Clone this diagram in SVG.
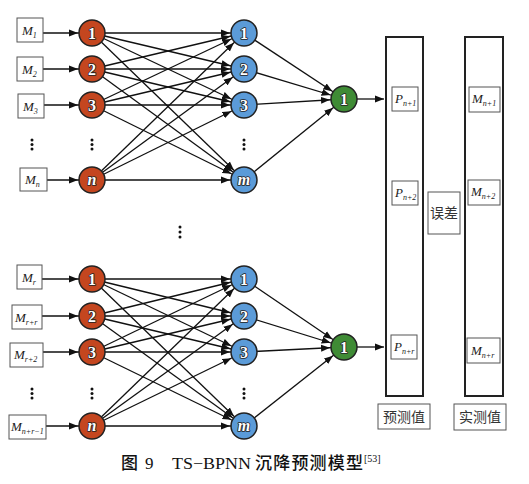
<svg xmlns="http://www.w3.org/2000/svg" width="529" height="484" viewBox="0 0 529 484">
<style>
.bx{fill:#fff;stroke:#555;stroke-width:1}
.col{fill:#fff;stroke:#222;stroke-width:2}
.lbl{font-family:"Liberation Serif",serif;font-style:italic;font-size:13px;fill:#222}
.sub{font-size:8px}
.red{fill:#c4461f;stroke:#222;stroke-width:1.5}
.blue{fill:#5b9bd8;stroke:#222;stroke-width:1.5}
.green{fill:#3f8b35;stroke:#222;stroke-width:1.5}
.num{font-family:"Liberation Serif",serif;font-weight:bold;font-size:16px;fill:#fff;stroke:#222;stroke-width:1.6;paint-order:stroke;stroke-linejoin:round;text-anchor:middle}
.it{font-style:italic}
.cn{font-family:"Noto Sans CJK SC",sans-serif;font-size:14px;fill:#333;text-anchor:middle}
.ln{stroke:#111;stroke-width:1.3;fill:none}
.dot{fill:#111}
.cap{font-size:17px;fill:#111}
.capcn{font-family:"Noto Sans CJK SC",sans-serif;font-weight:500}
.caplt{font-family:"Liberation Serif",serif}
</style>
<defs>
<marker id="ah" markerUnits="userSpaceOnUse" markerWidth="10" markerHeight="8" refX="23" refY="4" orient="auto">
<path d="M0,0.5 L9,4 L0,7.5 z" fill="#111"/>
</marker>
<marker id="ah2" markerUnits="userSpaceOnUse" markerWidth="10" markerHeight="8" refX="9" refY="4" orient="auto">
<path d="M0,0.5 L9,4 L0,7.5 z" fill="#111"/>
</marker>
</defs>

<g id="connectors">
<line class="ln" x1="43" y1="33" x2="92" y2="33" marker-end="url(#ah)"/>
<line class="ln" x1="43" y1="69" x2="92" y2="69" marker-end="url(#ah)"/>
<line class="ln" x1="44" y1="105" x2="92" y2="105" marker-end="url(#ah)"/>
<line class="ln" x1="47" y1="180" x2="92" y2="180" marker-end="url(#ah)"/>
<line class="ln" x1="42" y1="279" x2="92" y2="279" marker-end="url(#ah)"/>
<line class="ln" x1="42" y1="316" x2="92" y2="316" marker-end="url(#ah)"/>
<line class="ln" x1="43" y1="352" x2="92" y2="352" marker-end="url(#ah)"/>
<line class="ln" x1="46" y1="426" x2="92" y2="426" marker-end="url(#ah)"/>
<g marker-end="url(#ah)">
<line class="ln" x1="92" y1="33" x2="244" y2="33"/>
<line class="ln" x1="92" y1="33" x2="244" y2="69"/>
<line class="ln" x1="92" y1="33" x2="244" y2="105"/>
<line class="ln" x1="92" y1="33" x2="244" y2="180"/>
<line class="ln" x1="92" y1="69" x2="244" y2="33"/>
<line class="ln" x1="92" y1="69" x2="244" y2="69"/>
<line class="ln" x1="92" y1="69" x2="244" y2="105"/>
<line class="ln" x1="92" y1="69" x2="244" y2="180"/>
<line class="ln" x1="92" y1="105" x2="244" y2="33"/>
<line class="ln" x1="92" y1="105" x2="244" y2="69"/>
<line class="ln" x1="92" y1="105" x2="244" y2="105"/>
<line class="ln" x1="92" y1="105" x2="244" y2="180"/>
<line class="ln" x1="92" y1="180" x2="244" y2="33"/>
<line class="ln" x1="92" y1="180" x2="244" y2="69"/>
<line class="ln" x1="92" y1="180" x2="244" y2="105"/>
<line class="ln" x1="92" y1="180" x2="244" y2="180"/>
<line class="ln" x1="92" y1="279" x2="244" y2="279"/>
<line class="ln" x1="92" y1="279" x2="244" y2="316"/>
<line class="ln" x1="92" y1="279" x2="244" y2="352"/>
<line class="ln" x1="92" y1="279" x2="244" y2="426"/>
<line class="ln" x1="92" y1="316" x2="244" y2="279"/>
<line class="ln" x1="92" y1="316" x2="244" y2="316"/>
<line class="ln" x1="92" y1="316" x2="244" y2="352"/>
<line class="ln" x1="92" y1="316" x2="244" y2="426"/>
<line class="ln" x1="92" y1="352" x2="244" y2="279"/>
<line class="ln" x1="92" y1="352" x2="244" y2="316"/>
<line class="ln" x1="92" y1="352" x2="244" y2="352"/>
<line class="ln" x1="92" y1="352" x2="244" y2="426"/>
<line class="ln" x1="92" y1="426" x2="244" y2="279"/>
<line class="ln" x1="92" y1="426" x2="244" y2="316"/>
<line class="ln" x1="92" y1="426" x2="244" y2="352"/>
<line class="ln" x1="92" y1="426" x2="244" y2="426"/>
<line class="ln" x1="244" y1="33" x2="344" y2="99"/>
<line class="ln" x1="244" y1="69" x2="344" y2="99"/>
<line class="ln" x1="244" y1="105" x2="344" y2="99"/>
<line class="ln" x1="244" y1="180" x2="344" y2="99"/>
<line class="ln" x1="244" y1="279" x2="344" y2="347"/>
<line class="ln" x1="244" y1="316" x2="344" y2="347"/>
<line class="ln" x1="244" y1="352" x2="344" y2="347"/>
<line class="ln" x1="244" y1="426" x2="344" y2="347"/>
</g>
<line class="ln" x1="357" y1="99" x2="384" y2="99" marker-end="url(#ah2)"/>
<line class="ln" x1="357" y1="347" x2="384" y2="347" marker-end="url(#ah2)"/>
</g>

<g id="in-M1"><rect class="bx" x="17" y="18" width="26" height="24"/><text class="lbl" x="22" y="35">M<tspan class="sub" dy="3">1</tspan></text></g>
<g id="in-M2"><rect class="bx" x="17" y="57" width="26" height="24"/><text class="lbl" x="22" y="74">M<tspan class="sub" dy="3">2</tspan></text></g>
<g id="in-M3"><rect class="bx" x="18" y="94" width="26" height="24"/><text class="lbl" x="23" y="111">M<tspan class="sub" dy="3">3</tspan></text></g>
<g id="in-Mn"><rect class="bx" x="20" y="168" width="27" height="23"/><text class="lbl" x="25" y="184">M<tspan class="sub" dy="3">n</tspan></text></g>
<g id="in-Mr"><rect class="bx" x="17" y="265" width="25" height="24"/><text class="lbl" x="22" y="282">M<tspan class="sub" dy="3">r</tspan></text></g>
<g id="in-Mrr"><rect class="bx" x="12" y="305" width="30" height="24"/><text class="lbl" x="15" y="322">M<tspan class="sub" dy="3">r+r</tspan></text></g>
<g id="in-Mr2"><rect class="bx" x="10" y="343" width="33" height="24"/><text class="lbl" x="14" y="359">M<tspan class="sub" dy="3">r+2</tspan></text></g>
<g id="in-Mnr1"><rect class="bx" x="9" y="415" width="37" height="24"/><text class="lbl" x="11" y="431">M<tspan class="sub" dy="3">n+r−1</tspan></text></g>

<g id="dots">
<circle class="dot" cx="32" cy="140" r="1.5"/><circle class="dot" cx="32" cy="144.5" r="1.5"/><circle class="dot" cx="32" cy="149" r="1.5"/>
<circle class="dot" cx="92" cy="140" r="1.5"/><circle class="dot" cx="92" cy="144.5" r="1.5"/><circle class="dot" cx="92" cy="149" r="1.5"/>
<circle class="dot" cx="244" cy="140" r="1.5"/><circle class="dot" cx="244" cy="144.5" r="1.5"/><circle class="dot" cx="244" cy="149" r="1.5"/>
<circle class="dot" cx="180" cy="227" r="1.5"/><circle class="dot" cx="180" cy="232" r="1.5"/><circle class="dot" cx="180" cy="237" r="1.5"/>
<circle class="dot" cx="32" cy="389" r="1.5"/><circle class="dot" cx="32" cy="393.5" r="1.5"/><circle class="dot" cx="32" cy="398" r="1.5"/>
<circle class="dot" cx="92" cy="389" r="1.5"/><circle class="dot" cx="92" cy="393.5" r="1.5"/><circle class="dot" cx="92" cy="398" r="1.5"/>
<circle class="dot" cx="244" cy="389" r="1.5"/><circle class="dot" cx="244" cy="393.5" r="1.5"/><circle class="dot" cx="244" cy="398" r="1.5"/>
</g>

<g id="r1"><circle class="red" cx="92" cy="33" r="13"/><text class="num" x="92" y="38.5">1</text></g>
<g id="r2"><circle class="red" cx="92" cy="69" r="13"/><text class="num" x="92" y="74.5">2</text></g>
<g id="r3"><circle class="red" cx="92" cy="105" r="13"/><text class="num" x="92" y="110.5">3</text></g>
<g id="rn"><circle class="red" cx="92" cy="180" r="13"/><text class="num it" x="92" y="185">n</text></g>
<g id="b1"><circle class="blue" cx="244" cy="33" r="13"/><text class="num" x="244" y="38.5">1</text></g>
<g id="b2"><circle class="blue" cx="244" cy="69" r="13"/><text class="num" x="244" y="74.5">2</text></g>
<g id="b3"><circle class="blue" cx="244" cy="105" r="13"/><text class="num" x="244" y="110.5">3</text></g>
<g id="bm"><circle class="blue" cx="244" cy="180" r="13"/><text class="num it" x="244" y="185">m</text></g>
<g id="g1"><circle class="green" cx="344" cy="99" r="13"/><text class="num" x="344" y="104.5">1</text></g>
<g id="r1b"><circle class="red" cx="92" cy="279" r="13"/><text class="num" x="92" y="284.5">1</text></g>
<g id="r2b"><circle class="red" cx="92" cy="316" r="13"/><text class="num" x="92" y="321.5">2</text></g>
<g id="r3b"><circle class="red" cx="92" cy="352" r="13"/><text class="num" x="92" y="357.5">3</text></g>
<g id="rnb"><circle class="red" cx="92" cy="426" r="13"/><text class="num it" x="92" y="431">n</text></g>
<g id="b1b"><circle class="blue" cx="244" cy="279" r="13"/><text class="num" x="244" y="284.5">1</text></g>
<g id="b2b"><circle class="blue" cx="244" cy="316" r="13"/><text class="num" x="244" y="321.5">2</text></g>
<g id="b3b"><circle class="blue" cx="244" cy="352" r="13"/><text class="num" x="244" y="357.5">3</text></g>
<g id="bmb"><circle class="blue" cx="244" cy="426" r="13"/><text class="num it" x="244" y="431">m</text></g>
<g id="g1b"><circle class="green" cx="344" cy="347" r="13"/><text class="num" x="344" y="352.5">1</text></g>

<g id="pred">
<rect class="col" x="386" y="37" width="37" height="359"/>
<rect class="bx" x="392" y="87" width="26" height="24"/><text class="lbl" x="395" y="103">P<tspan class="sub" dy="3">n+1</tspan></text>
<rect class="bx" x="392" y="181" width="26" height="24"/><text class="lbl" x="395" y="197">P<tspan class="sub" dy="3">n+2</tspan></text>
<rect class="bx" x="391" y="335" width="26" height="24"/><text class="lbl" x="394" y="351">P<tspan class="sub" dy="3">n+r</tspan></text>
</g>
<g id="actual">
<rect class="col" x="465" y="37" width="38" height="359"/>
<rect class="bx" x="469" y="87" width="31" height="25"/><text class="lbl" x="472" y="103">M<tspan class="sub" dy="3">n+1</tspan></text>
<rect class="bx" x="468" y="180" width="32" height="25"/><text class="lbl" x="471" y="196">M<tspan class="sub" dy="3">n+2</tspan></text>
<rect class="bx" x="467" y="338" width="33" height="25"/><text class="lbl" x="471" y="355">M<tspan class="sub" dy="3">n+r</tspan></text>
</g>
<g id="err"><rect class="bx" x="428" y="192" width="32" height="42"/><text class="cn" x="444" y="218">误差</text></g>
<g id="lbl-pred"><rect class="bx" x="378" y="404" width="52" height="25"/><text class="cn" x="404" y="422">预测值</text></g>
<g id="lbl-act"><rect class="bx" x="454" y="404" width="52" height="26"/><text class="cn" x="480" y="422">实测值</text></g>

<g id="caption" class="cap">
<text class="capcn" x="121" y="469">图</text>
<text class="caplt" x="145" y="469">9</text>
<text class="caplt" x="172" y="469" textLength="79" lengthAdjust="spacingAndGlyphs">TS−BPNN</text>
<text class="capcn" x="255" y="469" textLength="108" lengthAdjust="spacing">沉降预测模型</text>
<text class="caplt" x="364" y="462" font-size="10">[53]</text>
</g>
</svg>
